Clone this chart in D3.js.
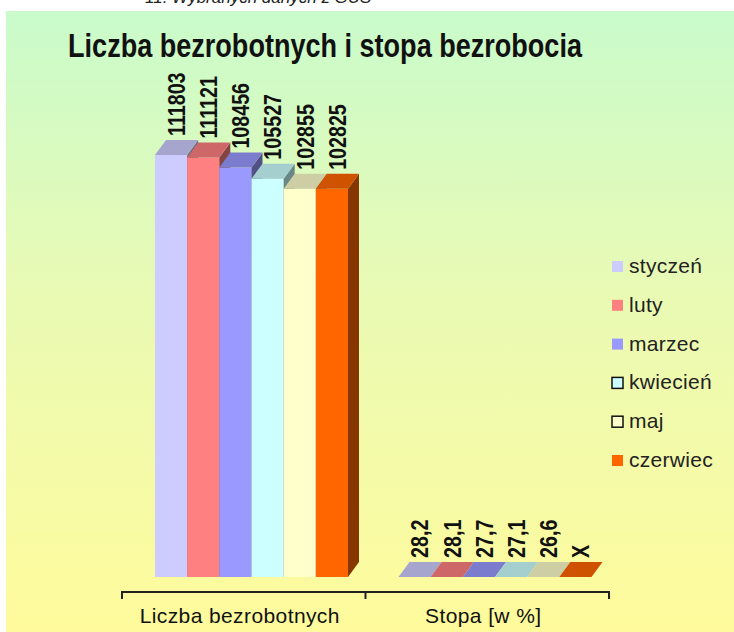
<!DOCTYPE html>
<html>
<head>
<meta charset="utf-8">
<script src="https://cdn.jsdelivr.net/npm/d3@7"></script>
<style>
  body { margin: 0; background: #fff; }
  .narrow { font-family: "Liberation Sans", Arial, sans-serif; font-weight: bold; }
  .plain { font-family: "Liberation Sans", Arial, sans-serif; }
</style>
</head>
<body>
<script>

const categories = ["Liczba bezrobotnych", "Stopa [w %]"];
const months = ["styczeń", "luty", "marzec", "kwiecień", "maj", "czerwiec"];
const unemployed = [111803, 111121, 108456, 105527, 102855, 102825];
const rate = [28.2, 28.1, 27.7, 27.1, 26.6, null];   // czerwiec: brak danych -> "X"
const colors = ["#ccccff", "#ff8080", "#9999ff", "#ccffff", "#ffffcc", "#ff6600"];
const outlined = [false, false, false, true, true, false];

const W = 734, H = 632;
const depth = { dx: 11, dy: -15 };
const squeeze = 0.82;   // no Arial Narrow here, so squeeze Liberation Sans Bold

let svg = d3.select("body").append("svg")
    .attr("width", W)
    .attr("height", H);

let grad = svg.append("defs").append("linearGradient")
    .attr("id", "bg")
    .attr("x1", 0).attr("y1", 0)
    .attr("x2", 0).attr("y2", 1);
grad.append("stop").attr("offset", "0%").attr("stop-color", "#c9fbcb");
grad.append("stop").attr("offset", "45%").attr("stop-color", "#e9fab4");
grad.append("stop").attr("offset", "100%").attr("stop-color", "#fffb9c");

svg.append("rect")
    .attr("x", 6)
    .attr("y", 11)
    .attr("width", W - 6)
    .attr("height", H - 11)
    .attr("fill", "url(#bg)");

// caption of the page above the chart, cut by the top edge as in the scan
svg.append("text")
    .attr("x", 145)
    .attr("y", 3)
    .style("font-family", "Liberation Sans, Arial, sans-serif")
    .style("font-style", "italic")
    .style("font-size", "17px")
    .attr("fill", "#222")
    .text("11. Wybranych danych z GUS");

svg.append("text")
    .attr("class", "narrow")
    .attr("transform", `translate(325,57) scale(${squeeze},1)`)
    .style("font-size", "33px")
    .style("text-anchor", "middle")
    .attr("fill", "#111")
    .text("Liczba bezrobotnych i stopa bezrobocia");

let x = d3.scaleBand()
    .domain(categories)
    .range([122, 609]);

let xi = d3.scaleBand()
    .domain(months)
    .range([33, 226]);

let y = d3.scaleLinear()
    .domain([0, 120000])
    .range([577, 124]);

let series = [
  { cat: categories[0], values: unemployed, fmt: v => String(v) },
  { cat: categories[1], values: rate, fmt: v => v == null ? "X" : d3.format(".1f")(v).replace(".", ",") }
];

let bars = [];
for (let s of series) {
  s.values.forEach((v, i) => {
    bars.push({ cat: s.cat, month: months[i], i, value: v == null ? 0 : v, label: s.fmt(v) });
  });
}

let plot = svg.append("g");

let bar = plot.selectAll(".bar").data(bars)
  .enter().append("g")
    .attr("class", "bar");

function geom(d) {
  let x0 = x(d.cat) + xi(d.month);
  let x1 = x0 + xi.bandwidth();
  let y0 = y(0);
  let yt = y(d.value);
  return { x0, x1, y0, yt };
}

bar.append("rect")
    .attr("x", d => geom(d).x0)
    .attr("y", d => geom(d).yt)
    .attr("width", xi.bandwidth())
    .attr("height", d => geom(d).y0 - geom(d).yt)
    .attr("fill", d => colors[d.i]);

bar.append("path")
    .attr("d", d => {
      let g = geom(d);
      return `M${g.x1},${g.yt}L${g.x1 + depth.dx},${g.yt + depth.dy}L${g.x1 + depth.dx},${g.y0 + depth.dy}L${g.x1},${g.y0}Z`;
    })
    .attr("fill", d => d3.color(colors[d.i]).darker(1.8));

bar.append("path")
    .attr("d", d => {
      let g = geom(d);
      return `M${g.x0},${g.yt}L${g.x0 + depth.dx},${g.yt + depth.dy}L${g.x1 + depth.dx},${g.yt + depth.dy}L${g.x1},${g.yt}Z`;
    })
    .attr("fill", d => d3.color(colors[d.i]).darker(0.6));

bar.append("text")
    .attr("class", "narrow")
    .attr("transform", d => {
      let g = geom(d);
      return `translate(${g.x0 + xi.bandwidth() / 2 + depth.dx / 2},${g.yt + depth.dy - 4}) rotate(-90) scale(${squeeze},1)`;
    })
    .attr("dy", "0.35em")
    .style("font-size", "24px")
    .attr("fill", "#111")
    .text(d => d.label);

// category axis: line with ticks on the band edges
let axis = svg.append("g")
    .attr("transform", "translate(0,592)");

axis.append("line")
    .attr("x1", x.range()[0])
    .attr("x2", x.range()[1])
    .attr("stroke", "#222")
    .attr("stroke-width", 2);

axis.selectAll(".tick")
    .data(categories.map(c => x(c)).concat([x.range()[1]]))
  .enter().append("line")
    .attr("class", "tick")
    .attr("x1", d => d)
    .attr("x2", d => d)
    .attr("y1", -1)
    .attr("y2", 7)
    .attr("stroke", "#222")
    .attr("stroke-width", 2);

axis.selectAll(".label")
    .data(categories)
  .enter().append("text")
    .attr("class", "label plain")
    .attr("x", d => x(d) + x.bandwidth() / 2 - 4)
    .attr("y", 31)
    .style("font-size", "21px")
    .style("letter-spacing", "0.4px")
    .style("text-anchor", "middle")
    .attr("fill", "#111")
    .text(d => d);

let legend = svg.selectAll(".legend")
    .data(months)
  .enter().append("g")
    .attr("class", "legend")
    .attr("transform", (d, i) => `translate(612,${266 + i * 38.8})`);

legend.append("rect")
    .attr("x", 0)
    .attr("y", -5)
    .attr("width", 11)
    .attr("height", 11)
    .attr("fill", (d, i) => colors[i])
    .attr("stroke", (d, i) => outlined[i] ? "#111" : "none")
    .attr("stroke-width", 1.5);

legend.append("text")
    .attr("class", "plain")
    .attr("x", 17)
    .attr("y", 7)
    .style("font-size", "21px")
    .style("letter-spacing", "0.3px")
    .attr("fill", "#222")
    .text(d => d);

</script>
</body>
</html>
